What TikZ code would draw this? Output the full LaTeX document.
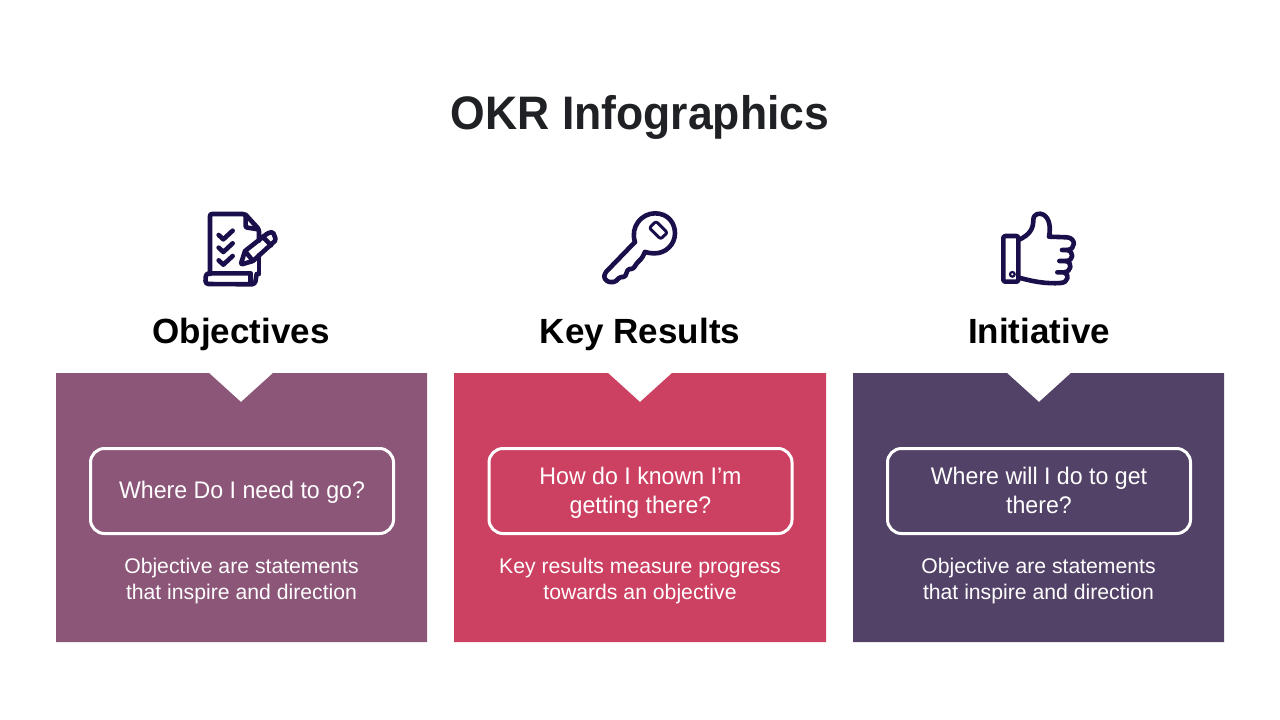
\documentclass[tikz,border=0pt]{standalone}
\usepackage{fontspec}
\setmainfont{Liberation Sans}
\newfontfamily\titlefont[FakeStretch=0.947]{Liberation Sans}
\newfontfamily\askfont[FakeStretch=0.965]{Liberation Sans}
\definecolor{ttl}{HTML}{202124}
\definecolor{cA}{HTML}{8B5678}
\definecolor{cB}{HTML}{CC4062}
\definecolor{cC}{HTML}{534267}
\definecolor{ico}{HTML}{1B0F4B}
\newcommand{\asktxt}[1]{\raisebox{-8pt}[0pt][0pt]{\begin{tabular}{@{}c@{}}#1\end{tabular}}}
\tikzset{
 head/.style={anchor=base,font=\fontsize{35}{40}\selectfont\bfseries,text=black,inner sep=0pt},
 askbox/.style={draw=white,line width=3pt,rounded corners=14pt,minimum width=303pt,minimum height=85pt,inner sep=0pt,align=center,text=white,font=\askfont\fontsize{24}{29}\selectfont},
 desc/.style={align=center,text=white,inner sep=0pt,font=\fontsize{21.2}{26}\selectfont},
 icon/.style={draw=ico,line width=4.6pt,line join=round,line cap=round},
 iconscope/.style={x=0.3333pt,y=-0.3333pt}
}
\begin{document}
\begin{tikzpicture}[x=1pt,y=-1pt]
\useasboundingbox (0,0) rectangle (1280,720);
\fill[white] (0,0) rectangle (1280,720);
\node[anchor=base,text=ttl,inner sep=0pt,font=\titlefont\fontsize{47}{52}\selectfont\bfseries] (title) at (640,129) {OKR Infographics};
% panels
\fill[cA] (56,373) -- (209,373) -- (241,402) -- (273,373) -- (427,373) -- (427,642) -- (56,642) -- cycle;
\fill[cB] (454,373) -- (608,373) -- (640,402) -- (672,373) -- (826,373) -- (826,642) -- (454,642) -- cycle;
\fill[cC] (853,373) -- (1007,373) -- (1039,402) -- (1071,373) -- (1224,373) -- (1224,642) -- (853,642) -- cycle;
\node[head] (h1) at (241,343) {Objectives};
\node[head] (h2) at (640,343) {Key Results};
\node[head] (h3) at (1039,343) {Initiative};
\node[askbox] (b1) at (242,491) {\asktxt{Where Do I need to go?}};
\node[askbox] (b2) at (640.5,491) {\asktxt{How do I known I’m\\getting there?}};
\node[askbox] (b3) at (1039,491) {\asktxt{Where will I do to get\\there?}};
\node[desc] (d1) at (241.5,581) {Objective are statements\\that inspire and direction};
\node[desc] (d2) at (640,581) {Key results measure progress\\towards an objective};
\node[desc] (d3) at (1038.5,581) {Objective are statements\\that inspire and direction};
% document icon
\begin{scope}[shift={(190,200)},iconscope]
\draw[icon,rounded corners=2pt] (60,222) -- (60,42) -- (165,42) -- (207,88) -- (207,122);
\draw[icon] (207,165) -- (207,222);
\draw[icon,rounded corners=1pt] (167,44) -- (167,82) -- (205,88);
\draw[icon,rounded corners=3pt] (182,220) -- (48,220) -- (46,252) -- (195,253) -- (200,222);
\draw[icon] (182,222) -- (182,250);
\foreach \d in {0,38,76}{
 \draw[icon] (86,{105+\d}) -- (100,{118+\d}) -- (128,{92+\d});
}
\draw[icon,rounded corners=1.5pt] (152,194) -- (165,153) -- (234,99) -- (249,96) -- (258,120) -- (189,183) -- cycle;
\draw[icon] (165,153) -- (189,183);
\draw[icon] (218,110) -- (243,136);
\end{scope}
% key icon
\begin{scope}[shift={(590,200)},iconscope]
\draw[icon,rounded corners=1.5pt] (135,126) -- (45,219) -- (42,234) -- (54,246) -- (75,246) -- (90,231) -- (105,231) -- (114,207) -- (129,207) -- (141,189) -- (156,174) -- (165,156);
\draw[icon] (135,126) .. controls (120,80) and (155,40) .. (195,40) .. controls (235,40) and (255,70) .. (255,100) .. controls (255,135) and (225,160) .. (195,160) .. controls (182,160) and (172,158) .. (165,156);
\draw[icon,line width=3pt,rounded corners=2pt] (198,64) -- (232,98) -- (212,117) -- (178,84) -- cycle;
\end{scope}
% thumb icon
\begin{scope}[shift={(990,200)},iconscope]
\draw[icon,rounded corners=2pt] (40,108) rectangle (85,245);
\draw[line width=2.2pt,draw=ico] (67,223) circle (7);
\draw[icon] (85,120) .. controls (120,105) and (130,85) .. (130,60) .. controls (130,40) and (150,38) .. (160,44) .. controls (180,55) and (182,85) .. (177,110) -- (232,112) .. controls (258,115) and (258,148) .. (232,150) -- (216,150);
\draw[icon] (232,150) .. controls (252,155) and (252,182) .. (228,183) -- (208,183);
\draw[icon] (228,183) .. controls (248,188) and (245,215) .. (222,217) -- (202,217);
\draw[icon] (222,217) .. controls (240,222) and (235,248) .. (212,249) .. controls (170,252) and (130,245) .. (87,233);
\end{scope}
\end{tikzpicture}
\end{document}
